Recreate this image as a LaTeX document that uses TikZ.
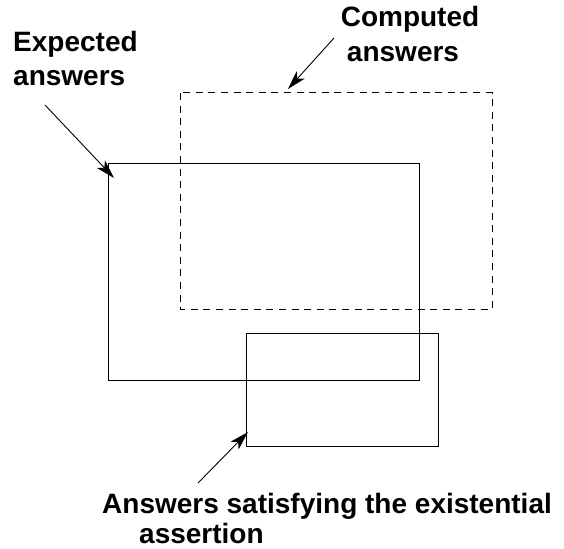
\documentclass[tikz,border=0pt]{standalone}
\usepackage{fontspec}
\setmainfont{Liberation Sans}
\usetikzlibrary{arrows.meta}
\begin{document}
\begin{tikzpicture}[x=1pt,y=-1pt,
  box/.style={draw=black,line width=1pt},
  dbox/.style={draw=black,line width=1pt,dash pattern=on 7pt off 5.6pt},
  lbl/.style={inner sep=0pt,anchor=base west,font=\fontsize{28}{32}\selectfont\bfseries},
  clbl/.style={lbl,anchor=base},
  pointer/.style={line width=0.9pt,-{Stealth[length=19pt,width=11pt,inset=5pt]}}]
\useasboundingbox (0,0) rectangle (564,548);
% rectangles
\draw[dbox] (180,93) rectangle (492,309);
\draw[box] (108,164) rectangle (419,380);
\draw[box] (246,333) rectangle (438,446);
% labels
\node[lbl] (exp1) at (13,52) {Expected};
\node[lbl] (exp2) at (13,86) {answers};
\node[clbl] (cmp1) at (410,27) {Computed};
\node[clbl] (cmp2) at (403,62) {answers};
\node[lbl] (ans1) at (102,513) {Answers satisfying the existential};
\node[lbl] (ans2) at (139,543) {assertion};
% arrows
\coordinate (eS) at (45,105);
\coordinate (eT) at (114,178);
\coordinate (cS) at (334,38);
\coordinate (cT) at (288,89);
\coordinate (aS) at (198,483);
\coordinate (aT) at (248,432);
\draw[pointer] (eS) -- (eT);
\draw[pointer] (cS) -- (cT);
\draw[pointer] (aS) -- (aT);
\end{tikzpicture}
\end{document}
